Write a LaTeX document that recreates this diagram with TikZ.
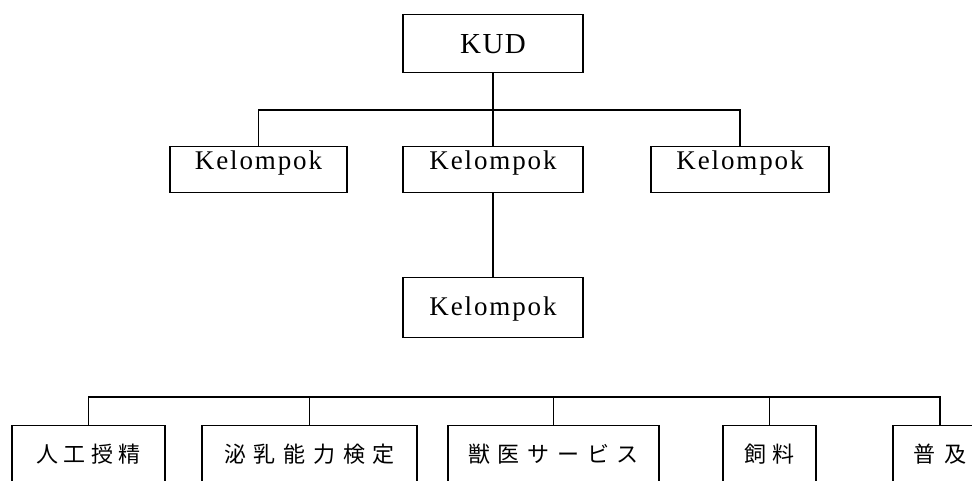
\documentclass[tikz,border=0pt]{standalone}
\usepackage{fontspec}
\setmainfont{Liberation Serif}
\newfontfamily\kelfont[LetterSpace=7]{Liberation Serif}
\newfontfamily\kudfont[LetterSpace=5]{Liberation Serif}
\newfontfamily\cjkA[LetterSpace=25]{Noto Sans CJK JP}
\newfontfamily\cjkB[LetterSpace=35]{Noto Sans CJK JP}
\newfontfamily\cjkC[LetterSpace=40]{Noto Sans CJK JP}
\begin{document}
\begin{tikzpicture}[x=1pt,y=-1pt,
  every node/.style={draw, line width=1.2pt, rectangle, inner xsep=0pt, inner ysep=0pt, anchor=north},
  kudbox/.style={minimum width=180pt, text height=39pt, text depth=19pt, font=\kudfont\fontsize{29}{31}\selectfont},
  kelbox/.style={text height=23pt, text depth=23pt, font=\kelfont\fontsize{27}{30}\selectfont},
  kellow/.style={text height=38pt, text depth=22pt, font=\kelfont\fontsize{27}{30}\selectfont},
  svcbox/.style={text height=37pt, text depth=80pt, font=\cjkA\fontsize{22}{26}\selectfont},
  conn/.style={line width=1.2pt}]
\useasboundingbox (0,0) rectangle (972,481);
\clip (0,0) rectangle (972,481);
\node[kudbox] (kud) at (493,14) {KUD};
\node[kelbox, minimum width=177pt] (kL) at (258.5,146) {Kelompok};
\node[kelbox, minimum width=180pt] (kM) at (493,146) {Kelompok};
\node[kelbox, minimum width=178pt] (kR) at (740,146) {Kelompok};
\node[kellow, minimum width=180pt] (kB) at (493,277) {Kelompok};
\draw[conn] (kud.south) -- (kM.north);
\draw[conn] (kL.north) -- ++(0,-36) -| (kR.north);
\draw[conn] (kM.south) -- (kB.north);
\node[svcbox, minimum width=153pt] (s1) at (88.5,425) {人工授精};
\node[svcbox, minimum width=215pt, font=\cjkB\fontsize{22}{26}\selectfont] (s2) at (309.5,425) {泌乳能力検定};
\node[svcbox, minimum width=211pt, font=\cjkB\fontsize{22}{26}\selectfont] (s3) at (553.5,425) {獣医サービス};
\node[svcbox, minimum width=93pt] (s4) at (769.5,425) {飼料};
\node[svcbox, minimum width=94pt, font=\cjkC\fontsize{22}{26}\selectfont] (s5) at (940,425) {普及};
\coordinate (bus) at (0,397);
\draw[conn] (s1.north) -- (s1.north |- bus) -| (s5.north);
\draw[conn] (s2.north) -- (s2.north |- bus);
\draw[conn] (s3.north) -- (s3.north |- bus);
\draw[conn] (s4.north) -- (s4.north |- bus);
\end{tikzpicture}
\end{document}
